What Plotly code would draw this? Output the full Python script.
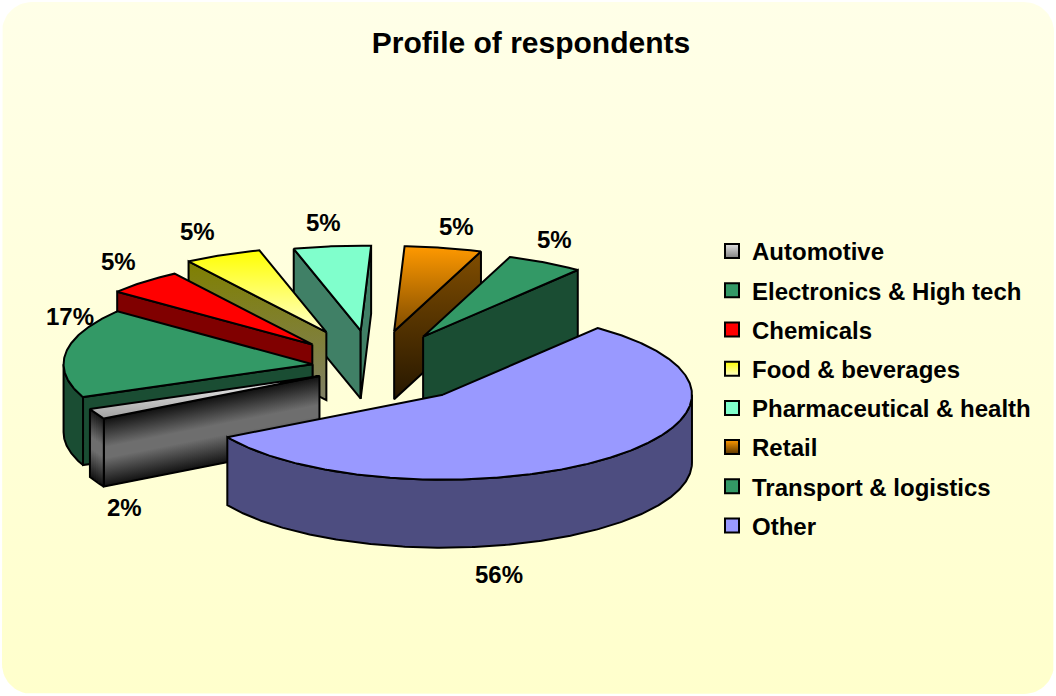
import numpy as np
import plotly.graph_objects as go

categories = ["Automotive", "Electronics & High tech", "Chemicals", "Food & beverages",
              "Pharmaceutical & health", "Retail", "Transport & logistics", "Other"]
values = [2, 17, 5, 5, 5, 5, 5, 56]
explode = [0.24, 0.245, 0.36, 0.45, 0.43, 0.43, 0.41, 0.43]
first_angle = 240.0
title_text = "Profile of respondents"


def flat(c):
    return [(0, c), (1, c)]


# colour stops are given from the top of a shape to its bottom
top_fills = [
    [(0, "#f4f4f4"), (1, "#a0a0a0")], flat("#339966"), flat("#ff0000"),
    [(0, "#ffff00"), (1, "#ffffcc")], flat("#80ffcc"),
    [(0, "#ff9900"), (1, "#7f4c00")], flat("#339966"), flat("#9999ff"),
]
wall_fills = [
    [(0, "#101010"), (0.42, "#6e6e6e"), (0.58, "#6e6e6e"), (1, "#101010")], flat("#1a4d33"), flat("#800000"),
    [(0, "#808000"), (1, "#7f7f66")], flat("#408066"),
    [(0, "#804d00"), (1, "#261700")], flat("#1a4d33"), flat("#4d4d80"),
]
legend_top = ["#e0e0e0", "#339966", "#ff0000", "#ffff00", "#80ffcc", "#ff9900", "#339966", "#9999ff"]
legend_bottom = ["#808080", "#339966", "#ff0000", "#ffffcc", "#80ffcc", "#5a3600", "#339966", "#9999ff"]
draw_order = [4, 3, 2, 1, 0, 5, 6, 7]
label_xy = [(124, 507), (70, 316), (118, 261), (197, 231), (323, 222), (456, 226), (554, 239), (499, 574)]

CX, CY, RX, RY, DEPTH = 373.0, 367.0, 249.0, 85.0, 68.0
LW = 2.0
W, H = 1056, 696
fig = go.Figure()


def grad(stops):
    return sorted(([1 - p, c] for p, c in stops), key=lambda s: s[0])


def poly(xs, ys, stops, line=True):
    fig.add_trace(go.Scatter(
        x=list(xs) + [xs[0]], y=list(ys) + [ys[0]], mode="lines", fill="toself",
        fillgradient=dict(type="vertical", colorscale=grad(stops)),
        line=dict(color="#000000" if line else "rgba(0,0,0,0)", width=LW if line else 0),
        showlegend=False, hoverinfo="skip"))


def outline(xs, ys):
    fig.add_trace(go.Scatter(x=list(xs) + [xs[0]], y=list(ys) + [ys[0]], mode="lines",
                             line=dict(color="#000000", width=LW), showlegend=False, hoverinfo="skip"))


def wall(xs, ys, stops, skew):
    # xs, ys: top edge points; bottom edge lies DEPTH below
    xs, ys = np.asarray(xs, float), np.asarray(ys, float)
    px = np.r_[xs, xs[::-1]]
    py = np.r_[ys, ys[::-1] + DEPTH]
    if not skew:
        poly(px, py, stops)
        return
    # gradient follows the slanted top edge: draw as narrow overlapping columns
    n = max(int(abs(xs[-1] - xs[0]) / 2), 2)
    t = np.linspace(0, 1, n + 1)
    gx = xs[0] + (xs[-1] - xs[0]) * t
    gy = np.interp(t, np.linspace(0, 1, len(ys)), ys)
    pad = 1.5 * np.sign(xs[0] - xs[-1])
    for i in range(n):
        x0 = gx[i] + (pad if i else 0)
        y0 = gy[i]
        poly([x0, gx[i + 1], gx[i + 1], x0], [y0, gy[i + 1], gy[i + 1] + DEPTH, y0 + DEPTH], stops, line=False)
    outline(px, py)


# rounded page background
r = 30
corner = np.radians(np.linspace(0, 90, 16))
bx = np.r_[W - 2 - r + r * np.sin(corner), W - 2 - r + r * np.cos(corner), 2 + r - r * np.sin(corner), 2 + r - r * np.cos(corner)]
by = np.r_[2 + r - r * np.cos(corner), H - 2 - r + r * np.sin(corner), H - 2 - r + r * np.cos(corner), 2 + r - r * np.sin(corner)]
poly(bx, by, [(0, "#ffffe8"), (1, "#ffffcc")], line=False)

total = sum(values)
edges = first_angle + np.r_[0, np.cumsum(values)] * 360.0 / total

for i in draw_order:
    a0, a1 = edges[i], edges[i + 1]
    if a0 >= 360:
        a0, a1 = a0 - 360, a1 - 360
    mid = np.radians((a0 + a1) / 2)
    ax = CX + explode[i] * RX * np.sin(mid)
    ay = CY - explode[i] * RY * np.cos(mid)
    th = np.radians(np.linspace(a0, a1, max(int(a1 - a0) * 2, 4)))
    ox = ax + RX * np.sin(th)
    oy = ay - RY * np.cos(th)
    skew = i == 0
    if np.sin(np.radians(a0)) < 0:
        wall([ax, ox[0]], [ay, oy[0]], wall_fills[i], skew)
    if np.sin(np.radians(a1)) > 0:
        wall([ax, ox[-1]], [ay, oy[-1]], wall_fills[i], skew)
    lo, hi = max(a0, 90.0), min(a1, 270.0)
    if hi > lo:
        t2 = np.radians(np.linspace(lo, hi, max(int(hi - lo) * 2, 4)))
        wall(ax + RX * np.sin(t2), ay - RY * np.cos(t2), wall_fills[i], skew)
    poly(np.r_[ax, ox], np.r_[ay, oy], top_fills[i])

# legend entries
for name, top, bottom in zip(categories, legend_top, legend_bottom):
    fig.add_trace(go.Scatter(
        x=[None], y=[None], mode="markers", name=name, legendgroup=name,
        marker=dict(symbol="square", size=14, color=top, gradient=dict(type="vertical", color=bottom),
                    line=dict(color="#000000", width=2)),
        hoverinfo="skip"))

annotations = [dict(x=x, y=y, text=f"<b>{v}%</b>", showarrow=False, xref="x", yref="y",
                    font=dict(family="Liberation Sans", size=24, color="#000000"))
               for v, (x, y) in zip(values, label_xy)]

fig.update_layout(
    width=W, height=H, margin=dict(l=0, r=0, t=0, b=0), paper_bgcolor="#ffffff", plot_bgcolor="rgba(0,0,0,0)",
    title=dict(text="<b>" + title_text + "</b>", x=531 / W, y=1 - 42 / H, xanchor="center", yanchor="middle",
               font=dict(family="Liberation Sans", size=30, color="#000000")),
    xaxis=dict(range=[0, W], visible=False, fixedrange=True),
    yaxis=dict(range=[H, 0], visible=False, fixedrange=True),
    legend=dict(x=712 / W, y=1 - 229 / H, xanchor="left", yanchor="top", bgcolor="rgba(0,0,0,0)",
                tracegroupgap=5, font=dict(family="Liberation Sans", size=24, color="#000000", weight="bold")),
    annotations=annotations,
)
fig.write_html("out.html", config={"displayModeBar": False},
               post_script="document.body.style.margin='0';document.body.style.overflow='hidden';")
